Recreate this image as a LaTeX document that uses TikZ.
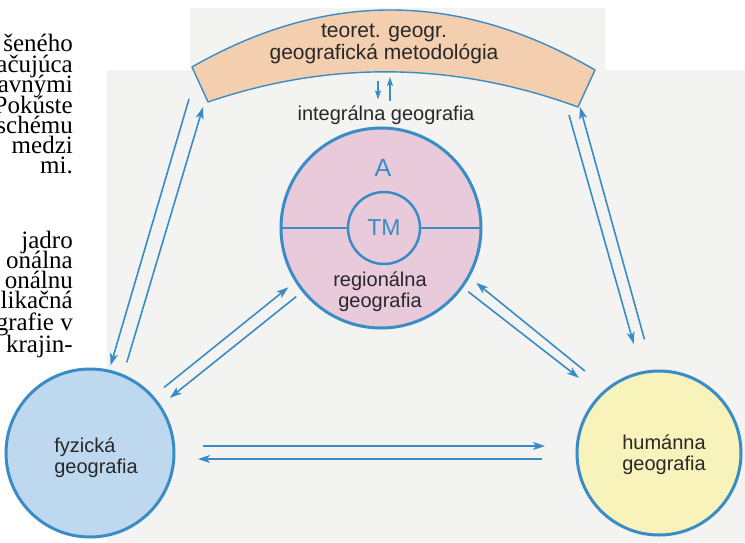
\documentclass[tikz,border=0pt]{standalone}
\usepackage{fontspec}
\setmainfont{Liberation Sans}
\newfontfamily\serifbook{Liberation Serif}
\usetikzlibrary{arrows.meta}
\definecolor{lineblue}{RGB}{58,140,198}
\definecolor{regfill}{RGB}{232,202,219}
\definecolor{fyzfill}{RGB}{190,216,240}
\definecolor{humfill}{RGB}{247,243,187}
\definecolor{bandfill}{RGB}{244,207,175}
\definecolor{scangray}{RGB}{243,243,241}
\definecolor{labelgray}{RGB}{40,40,40}
\begin{document}
\begin{tikzpicture}[x=1pt,y=-1pt,
  arr/.style={draw=lineblue,line width=1.6pt,-{Stealth[length=12pt,width=8pt,inset=3pt]}},
  smallarr/.style={draw=lineblue,line width=1.6pt,-{Stealth[length=9pt,width=6pt,inset=2pt]}},
  disc/.style={circle,draw=lineblue,line width=3pt,inner sep=0pt,outer sep=0pt},
  lbl/.style={text=labelgray,font=\fontsize{20}{21}\selectfont,align=center,inner sep=0pt},
  pagetext/.style={font=\serifbook\fontsize{25}{25}\selectfont,anchor=base east,inner sep=0pt}]
\useasboundingbox (0,0) rectangle (745,542);
\fill[scangray] (107,542) -- (107,70) -- (190,70) -- (190,8) -- (605,8) -- (605,70) -- (745,70) -- (745,542) -- cycle;

% page text on the left
\node[pagetext] (t1) at (73,51) {šeného};
\node[pagetext] (t2) at (73,72) {ačujúca};
\node[pagetext] (t3) at (73,92) {avnými};
\node[pagetext] (t4) at (73,113) {Pokúste};
\node[pagetext] (t5) at (73,133) {schému};
\node[pagetext] (t6) at (73,153) {medzi};
\node[pagetext] (t7) at (73,173) {mi.};
\node[pagetext] (t8) at (73,248) {jadro};
\node[pagetext] (t9) at (73,268) {onálna};
\node[pagetext] (t10) at (73,288) {onálnu};
\node[pagetext] (t11) at (73,308) {likačná};
\node[pagetext] (t12) at (73,330) {grafie v};
\node[pagetext] (t13) at (73,352) {krajin-};

% band
\draw[draw=lineblue,line width=1.4pt,fill=bandfill,line join=round]
  (192,67) .. controls (326,-10) and (460,-9) .. (595,70) -- (578,107)
  .. controls (455,62) and (331,60) .. (208,102) -- cycle;
\node[lbl,font=\fontsize{21}{22}\selectfont] (teo) at (384,44) {teoret. geogr.\\geografická metodológia};

% central circle
\node[lbl] (intg) at (386,115) {integrálna geografia};
\node[disc,fill=regfill,minimum size=200pt] (reg) at (381,228) {};
\node[disc,line width=2.5pt,minimum size=72pt,text=lineblue,font=\fontsize{23}{23}\selectfont] (tm) at (384,228) {TM};
\draw[lineblue,line width=2.4pt] (reg.west) -- (tm.west);
\draw[lineblue,line width=2.4pt] (tm.east) -- (reg.east);
\node[text=lineblue,font=\fontsize{25}{25}\selectfont,inner sep=0pt] (lettera) at (383,168) {A};
\node[lbl] (regl) at (380,292) {regionálna\\geografia};

% outer circles
\node[disc,fill=fyzfill,minimum size=168pt] (fyz) at (90,453) {};
\node[lbl,align=left] (fyzl) at (96,458) {fyzická\\geografia};
\node[disc,fill=humfill,minimum size=164pt] (hum) at (659,453) {};
\node[lbl] (huml) at (664,455) {humánna\\geografia};

% band <-> integral
\coordinate (bB1) at (378,81);
\coordinate (bB2) at (390,77);
\draw[smallarr,shorten >=6pt] (bB1) -- ([xshift=-8pt]intg.north);
\draw[smallarr,shorten <=4pt] ([xshift=4pt]intg.north) -- (bB2);

% band <-> fyz
\coordinate (bL1) at (189,99);
\coordinate (bL2) at (203,107);
\draw[arr,shorten >=6pt] (bL1) -- (fyz.77.2);
\draw[arr,shorten <=14pt] (fyz.67.3) -- (bL2);

% band <-> hum
\coordinate (bR1) at (569,115);
\coordinate (bR2) at (580,107);
\draw[arr,shorten >=30pt] (bR1) -- (hum.102.2);
\draw[arr,shorten <=33pt] (hum.94.4) -- (bR2);

% reg <-> fyz
\draw[arr,shorten <=15pt,shorten >=10pt] (fyz.42.5) -- (reg.212.4);
\draw[arr,shorten <=9pt,shorten >=13pt] (reg.219.4) -- (fyz.34);

% reg <-> hum
\draw[arr,shorten <=29pt,shorten >=10pt] (hum.129.9) -- (reg.-29.4);
\draw[arr,shorten <=8pt,shorten >=28pt] (reg.-36.3) -- (hum.135.7);

% fyz <-> hum
\draw[arr,shorten <=29pt,shorten >=32pt] ([yshift=7pt]fyz.east) -- ([yshift=7pt]hum.west);
\draw[arr,shorten <=35pt,shorten >=24pt] ([yshift=-6pt]hum.west) -- ([yshift=-6pt]fyz.east);
\end{tikzpicture}
\end{document}
